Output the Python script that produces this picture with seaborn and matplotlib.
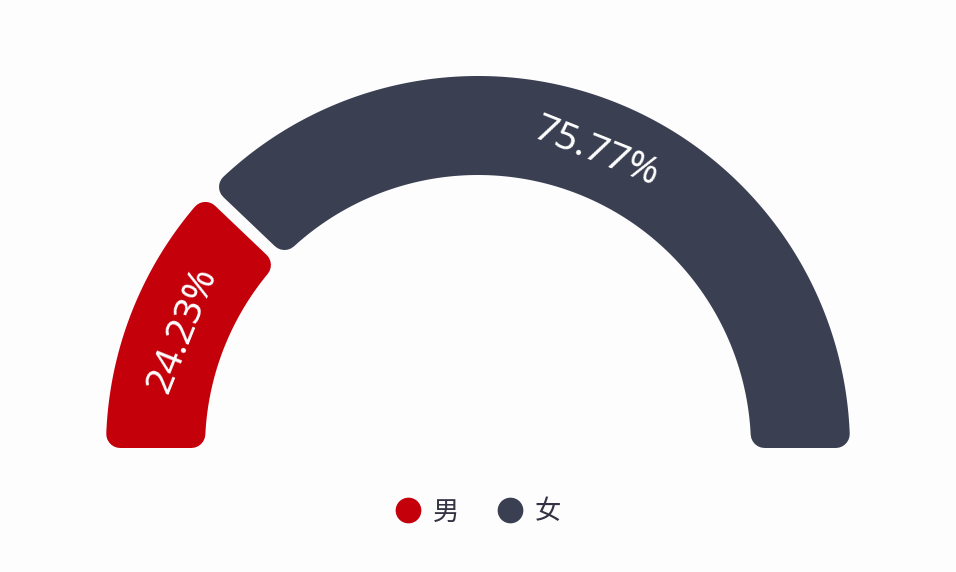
import numpy as np
import matplotlib
matplotlib.use('Agg')
import matplotlib.pyplot as plt
from matplotlib.patches import Polygon
from matplotlib.lines import Line2D
import seaborn as sns

# data
labels = ['男', '女']
values = [24.23, 75.77]
colors = ['#C4000A', '#3A3F52']

sns.set_theme(style='white')
plt.rcParams['font.family'] = ['Noto Sans CJK SC', 'DejaVu Sans']

W, H, DPI = 956, 572, 100
fig = plt.figure(figsize=(W / DPI, H / DPI), dpi=DPI, facecolor='#FDFDFE')
ax = fig.add_axes([0, 0, 1, 1])
ax.set_xlim(0, W)
ax.set_ylim(0, H)
ax.set_facecolor('#FDFDFE')
ax.axis('off')

# gauge geometry (pixels)
cx, cy = 478, H - 448
r_out, r_in = 372, 273
corner = 14
gap = 12


def sector(lo, hi, d_lo, d_hi, color):
    ro, ri = r_out - corner, r_in + corner
    a1 = lo + np.degrees(np.arcsin(d_lo / ro))
    a2 = hi - np.degrees(np.arcsin(d_hi / ro))
    b2 = hi - np.degrees(np.arcsin(d_hi / ri))
    b1 = lo + np.degrees(np.arcsin(d_lo / ri))
    t_out = np.radians(np.linspace(a1, a2, 200))
    t_in = np.radians(np.linspace(b2, b1, 200))
    xs = np.r_[cx + ro * np.cos(t_out), cx + ri * np.cos(t_in)]
    ys = np.r_[cy + ro * np.sin(t_out), cy + ri * np.sin(t_in)]
    poly = Polygon(np.c_[xs, ys], closed=True, facecolor=color, edgecolor=color,
                   linewidth=2 * corner * 72 / DPI, joinstyle='round')
    ax.add_patch(poly)


total = sum(values)
start = 180.0
for i, (lab, v, col) in enumerate(zip(labels, values, colors)):
    span = 180.0 * v / total
    hi, lo = start, start - span
    d_hi = corner if i == 0 else corner + gap / 2
    d_lo = corner if i == len(values) - 1 else corner + gap / 2
    sector(lo, hi, d_lo, d_hi, col)
    mid = (lo + hi) / 2
    rm = (r_out + r_in) / 2 - 4
    tx = cx + rm * np.cos(np.radians(mid))
    ty = cy + rm * np.sin(np.radians(mid))
    ax.text(tx, ty, f'{v:.2f}%', color='white', fontsize=28, family='Noto Sans',
            rotation=mid - 90, rotation_mode='anchor', ha='center', va='center')
    start = lo

# legend
handles = [Line2D([], [], marker='o', linestyle='none', markersize=17.5,
                  markerfacecolor=c, markeredgecolor=c) for c in colors]
leg = ax.legend(handles, labels, loc='center', bbox_to_anchor=(478 / W, 1 - 512 / H),
                ncol=2, frameon=False, fontsize=19, handlelength=1.0,
                handletextpad=0.45, columnspacing=1.4)
for t in leg.get_texts():
    t.set_color('#333344')

fig.savefig('out.png', dpi=DPI, facecolor=fig.get_facecolor())
